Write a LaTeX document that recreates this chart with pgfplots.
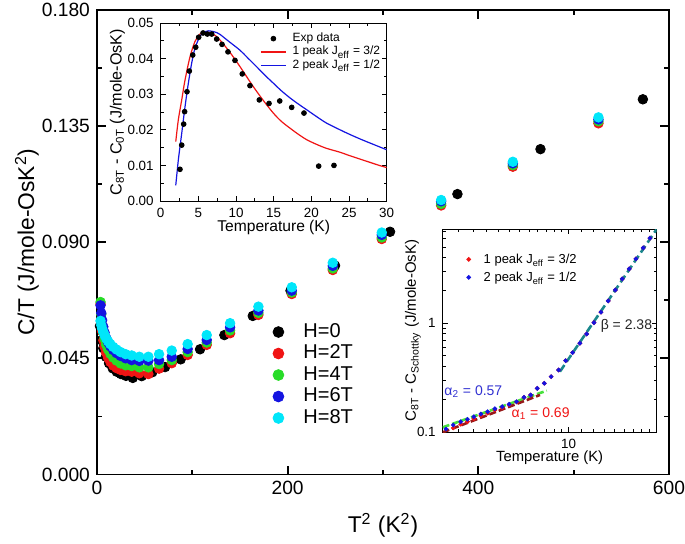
\documentclass[border=0pt]{standalone}
\usepackage{fontspec}
\setmainfont{Liberation Sans}
\usepackage{pgfplots}
\usepackage{pgfplotstable}
\pgfplotsset{compat=1.18}

\definecolor{cRed}{RGB}{240,20,20}
\definecolor{cGreen}{RGB}{40,220,40}
\definecolor{cBlue}{RGB}{20,20,225}
\definecolor{cCyan}{RGB}{0,230,250}
\definecolor{fitGreen}{RGB}{70,225,60}
\definecolor{fitRed}{RGB}{150,25,25}
\definecolor{fitTeal}{RGB}{25,135,140}
\definecolor{txtBlue}{RGB}{50,50,210}

% main panel, H = 0
\pgfplotstableread{
T2 C
3.1 0.0575
4.9 0.0520
6.6 0.0489
9.4 0.0456
12.6 0.0431
16.5 0.0411
20.7 0.0398
25.2 0.0389
30.4 0.0382
37.5 0.0374
46.9 0.0381
58.0 0.0396
71.4 0.0416
87.8 0.0446
108.1 0.0485
133.6 0.0540
163.4 0.0614
203.0 0.0712
249.7 0.0809
307.4 0.0940
378.1 0.1086
465.2 0.1260
572.6 0.1453
}\zerofield

% main panel, H = 2T ... 8T
\pgfplotstableread{
T2 H2 H4 H6 H8
3.7 0.0660 0.0668 0.0655 0.0595
4.5 0.0600 0.0620 0.0625 0.0578
5.4 0.0555 0.0580 0.0598 0.0565
6.6 0.0520 0.0549 0.0572 0.0552
7.9 0.0495 0.0525 0.0550 0.0540
9.5 0.0472 0.0503 0.0530 0.0528
11.6 0.0452 0.0484 0.0512 0.0516
14.0 0.0436 0.0468 0.0496 0.0505
17.0 0.0422 0.0453 0.0482 0.0494
20.5 0.0412 0.0441 0.0470 0.0484
24.8 0.0405 0.0430 0.0459 0.0474
30.0 0.0400 0.0423 0.0450 0.0466
36.4 0.0398 0.0420 0.0443 0.0461
44.4 0.0392 0.0415 0.0440 0.0456
53.9 0.0389 0.0415 0.0441 0.0456
65.1 0.0410 0.0428 0.0443 0.0466
78.4 0.0431 0.0443 0.0456 0.0480
95.1 0.0463 0.0474 0.0486 0.0505
115.1 0.0502 0.0511 0.0521 0.0540
139.6 0.0547 0.0558 0.0570 0.0586
169.3 0.0618 0.0626 0.0635 0.0650
204.3 0.0699 0.0705 0.0712 0.0725
247.3 0.0792 0.0798 0.0808 0.0820
298.7 0.0912 0.0918 0.0928 0.0937
361.0 0.1042 0.1048 0.1058 0.1063
436.2 0.1192 0.1198 0.1205 0.1211
526.0 0.1360 0.1368 0.1375 0.1383
}\fielddata

% inset 2
\pgfplotstableread{
T one two
4.097 0.0997 0.1066
4.32 0.1090 0.1160
4.56 0.1178 0.1244
4.79 0.1246 0.1309
5.02 0.1324 0.1383
5.28 0.1410 0.1464
5.55 0.1490 0.1537
5.85 0.1597 0.1638
6.17 0.1679 0.1710
6.49 0.1778 0.1800
6.85 0.1889 0.1900
7.23 0.2085 0.2085
7.59 0.2190 0.2190
7.96 0.2520 0.2520
8.38 0.2806 0.2806
8.81 0.3230 0.3230
9.30 0.3720 0.3720
9.79 0.4530 0.4530
10.30 0.5370 0.5370
10.86 0.6550 0.6550
11.41 0.7970 0.7970
12.03 1.0130 1.0130
12.66 1.2620 1.2620
13.35 1.6030 1.6030
14.06 2.0240 2.0240
14.79 2.5560 2.5560
15.56 3.1600 3.1600
16.33 3.9100 3.9100
17.23 4.9300 4.9300
18.09 6.0500 6.0500
}\schottky

\begin{document}
\begin{tikzpicture}

%% main axis
\begin{axis}[
  at={(48.5pt,34.25pt)}, anchor=south west,
  scale only axis, width=286pt, height=232.4pt,
  xmin=0, xmax=600, ymin=0, ymax=0.18,
  xtick={0,200,400,600}, minor xtick={100,300,500},
  ytick={0,0.045,0.09,0.135,0.18},
  minor ytick={0.0225,0.0675,0.1125,0.1575},
  scaled y ticks=false,
  yticklabel style={/pgf/number format/.cd,fixed,fixed zerofill,precision=3},
  /pgf/number format/assume math mode=true,
  axis line style={line width=0.9pt},
  tick style={black, line width=0.9pt},
  major tick length=4.5pt, minor tick length=2.5pt,
  tick label style={font=\fontsize{9.6}{11}\selectfont},
  xlabel={T\textsuperscript{2} (K\textsuperscript{2})},
  ylabel={C/T (J/mole-OsK\textsuperscript{2})},
  label style={font=\fontsize{11.4}{13}\selectfont},
  xlabel style={at={(axis description cs:0.5,-0.1087)}, anchor=center},
  ylabel style={at={(axis description cs:-0.1224,0.5)}, anchor=center},
  legend style={at={(axis description cs:0.2990,0.3268)}, anchor=north west,
    draw=none, fill=none, inner sep=0pt, row sep=1.75pt, column sep=7.5pt,
    font=\fontsize{10}{12}\selectfont,
    nodes={inner sep=0pt, text height=7pt, text depth=2pt}},
  legend cell align=left,
  legend image code/.code={\path[draw=none,fill=none] (0pt,-2pt) rectangle (10pt,2pt);
    \draw[mark repeat=2,mark phase=2,#1,mark size=2.7pt] plot coordinates {(0pt,0pt) (5pt,0pt) (10pt,0pt)};},
]
\addplot[only marks, mark=*, mark size=2.4pt, mark options={draw=black, fill=black}] table[x=T2, y=C] {\zerofield};
\addlegendentry{H=0}
\addplot[only marks, mark=*, mark size=2.4pt, mark options={draw=cRed, fill=cRed}] table[x=T2, y=H2] {\fielddata};
\addlegendentry{H=2T}
\addplot[only marks, mark=*, mark size=2.4pt, mark options={draw=cGreen, fill=cGreen}] table[x=T2, y=H4] {\fielddata};
\addlegendentry{H=4T}
\addplot[only marks, mark=*, mark size=2.4pt, mark options={draw=cBlue, fill=cBlue}] table[x=T2, y=H6] {\fielddata};
\addlegendentry{H=6T}
\addplot[only marks, mark=*, mark size=2.4pt, mark options={draw=cCyan, fill=cCyan}] table[x=T2, y=H8] {\fielddata};
\addlegendentry{H=8T}
\end{axis}

%% inset 1: C8T - C0T
\begin{axis}[
  at={(80.35pt,171pt)}, anchor=south west,
  scale only axis, width=113pt, height=89pt,
  axis background/.style={fill=white},
  xmin=0, xmax=30, ymin=0, ymax=0.05,
  xtick={0,5,10,15,20,25,30}, ytick={0,0.01,0.02,0.03,0.04,0.05},
  minor tick num=1,
  scaled y ticks=false,
  yticklabel style={/pgf/number format/.cd,fixed,fixed zerofill,precision=2},
  /pgf/number format/assume math mode=true,
  axis line style={line width=0.5pt},
  tick style={black, line width=0.5pt},
  major tick length=2.5pt, minor tick length=1.5pt,
  tick label style={font=\fontsize{6.7}{8}\selectfont},
  xlabel={Temperature (K)},
  ylabel={C\textsubscript{8T} - C\textsubscript{0T} (J/mole-OsK)},
  xlabel style={font=\fontsize{7.8}{9}\selectfont, at={(axis description cs:0.5,-0.146)}, anchor=center},
  ylabel style={font=\fontsize{8.1}{10}\selectfont, at={(axis description cs:-0.192,0.5)}, anchor=center},
  legend style={at={(axis description cs:0.439,0.947)}, anchor=north west,
    draw=none, fill=none, inner sep=0pt, row sep=0.85pt, column sep=3pt,
    font=\fontsize{6}{7}\selectfont,
    nodes={inner sep=0pt, text height=4.4pt, text depth=1.4pt}},
  legend cell align=left,
  legend image code/.code={\path[draw=none,fill=none] (0pt,-1pt) rectangle (12.5pt,1pt);
    \draw[mark repeat=2,mark phase=2,#1] plot coordinates {(0pt,0pt) (6.25pt,0pt) (12.5pt,0pt)};},
]
\addplot[only marks, mark=*, mark size=1.2pt, mark options={draw=black, fill=black}] coordinates {
 (2.56,0.0089) (2.79,0.0157) (3.05,0.0216) (3.18,0.0251) (3.49,0.0307)
 (3.80,0.0365) (4.25,0.0410) (4.65,0.0432) (5.04,0.0460) (5.62,0.0472)
 (6.19,0.0469) (6.77,0.0469) (7.43,0.0455) (8.14,0.0440) (8.93,0.0419)
 (9.86,0.0395) (10.83,0.0357) (11.85,0.0324) (13.09,0.0284) (14.38,0.0274)
 (15.80,0.0281) (17.39,0.0263) (19.02,0.0247) (20.97,0.0098) (23.00,0.0100)};
\addlegendentry{Exp data}
\addplot[cRed, line width=0.6pt, smooth] coordinates {
 (2.0,0.0167) (2.34,0.0228) (2.79,0.0284) (3.23,0.0340) (3.89,0.0405)
 (4.55,0.0448) (5.22,0.0469) (6.0,0.0474) (6.7,0.0471) (7.3,0.0464)
 (7.87,0.0452) (9.0,0.0423) (10.09,0.0391) (11.2,0.0356) (12.3,0.0321)
 (13.6,0.0283) (14.95,0.0247) (16.0,0.0224) (17.2,0.0204) (18.3,0.0187)
 (19.4,0.0172) (20.7,0.0159) (22.0,0.0148) (23.8,0.0137) (25.0,0.0128)
 (26.0,0.0121) (27.0,0.0114) (28.0,0.0107) (29.0,0.0100) (30.0,0.0094)};
\addlegendentry{1 peak J\textsubscript{eff} = 3/2}
\addplot[cBlue, line width=0.6pt, smooth] coordinates {
 (2.0,0.0044) (2.34,0.0115) (2.79,0.0190) (3.23,0.0265) (3.67,0.0331)
 (4.11,0.0387) (4.55,0.0429) (5.22,0.0463) (5.8,0.0475) (6.3,0.0478)
 (6.77,0.0477) (7.3,0.0474) (7.87,0.0468) (9.0,0.0449) (10.5,0.0424)
 (11.6,0.0401) (12.74,0.0377) (13.8,0.0354) (14.95,0.0331) (16.0,0.0310)
 (17.2,0.0289) (18.3,0.0272) (19.4,0.0256) (20.7,0.0237) (22.0,0.0219)
 (23.8,0.0200) (25.0,0.0188) (26.5,0.0174) (28.0,0.0161) (30.0,0.0144)};
\addlegendentry{2 peak J\textsubscript{eff} = 1/2}
\end{axis}

%% inset 2: log-log
\begin{axis}[
  at={(221.35pt,55.5pt)}, anchor=south west,
  scale only axis, width=107pt, height=101.5pt,
  axis background/.style={fill=white},
  xmode=log, ymode=log,
  xmin=4, xmax=19, ymin=0.1, ymax=7.35,
  xtick={10}, xticklabels={10},
  minor xtick={4.5,5,5.5,6,6.5,7,7.5,8,8.5,9,9.5,11,12,13,14,15,16,17,18},
  ytick={0.1,1}, yticklabels={0.1,1},
  minor ytick={0.2,0.3,0.4,0.5,0.6,0.7,0.8,0.9,2,3,4,5,6,7},
  axis line style={line width=0.5pt},
  tick style={black, line width=0.5pt},
  major tick length=2.5pt, minor tick length=1.5pt,
  tick label style={font=\fontsize{6.7}{8}\selectfont},
  xlabel={Temperature (K)},
  ylabel={C\textsubscript{8T} - C\textsubscript{Schottky} (J/mole-OsK)},
  xlabel style={font=\fontsize{7.4}{9}\selectfont, at={(axis description cs:0.5,-0.128)}, anchor=center},
  ylabel style={font=\fontsize{7.5}{9}\selectfont, at={(axis description cs:-0.139,0.5)}, anchor=center},
  legend style={at={(axis description cs:0.0822,0.878)}, anchor=north west,
    draw=none, fill=none, inner sep=0pt, row sep=3.8pt, column sep=3.5pt,
    font=\fontsize{6.5}{8}\selectfont,
    nodes={inner sep=0pt, text height=4.8pt, text depth=0.4pt}},
  legend cell align=left,
  legend image code/.code={\path[draw=none,fill=none] (0pt,-1pt) rectangle (8pt,1pt);
    \draw[mark repeat=2,mark phase=2,#1] plot coordinates {(0pt,0pt) (4pt,0pt) (8pt,0pt)};},
]
\addplot[only marks, mark=*, mark size=0.95pt, mark options={draw=cRed, fill=cRed}] table[x=T, y=one] {\schottky};
\addlegendentry{1 peak J\textsubscript{eff} = 3/2}
\addplot[only marks, mark=*, mark size=0.95pt, mark options={draw=cBlue, fill=cBlue}] table[x=T, y=two] {\schottky};
\addlegendentry{2 peak J\textsubscript{eff} = 1/2}
\addplot[fitGreen, line width=1.3pt, dash pattern=on 3.5pt off 1.5pt, forget plot] coordinates {(4,0.1104) (8.53,0.240)};
\addplot[fitRed, line width=1.3pt, dash pattern=on 3.5pt off 1.5pt, forget plot] coordinates {(4,0.0993) (8.12,0.219)};
\addplot[fitTeal, line width=1.3pt, dash pattern=on 4pt off 2pt, forget plot] coordinates {(9.39,0.359) (19,7.33)};
\node[text=txtBlue, font=\fontsize{7}{8}\selectfont] at (axis cs:5.0,0.235) {α\textsubscript{2} = 0.57};
\node[text=cRed, font=\fontsize{7}{8}\selectfont] at (axis cs:8.16,0.1486) {α\textsubscript{1} = 0.69};
\node[text=black!85, font=\fontsize{7}{8}\selectfont] at (axis cs:15.24,0.944) {β = 2.38};
\end{axis}

\pgfresetboundingbox
\useasboundingbox (0,0) rectangle (342.5pt,271.5pt);
\end{tikzpicture}
\end{document}
